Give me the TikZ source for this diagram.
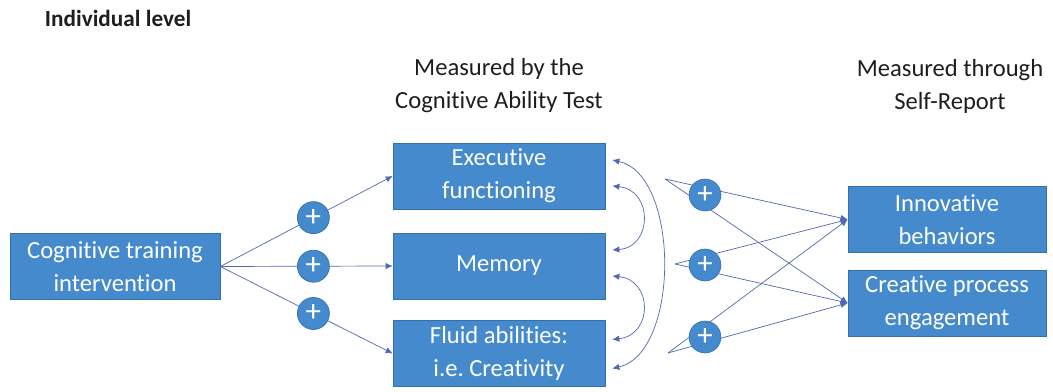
\documentclass[tikz,border=0pt]{standalone}
\usepackage{fontspec}
\setmainfont{Carlito}[Ligatures=NoCommon]
\usepackage{tikz}
\usetikzlibrary{arrows.meta}

\definecolor{boxblue}{RGB}{68,138,204}
\definecolor{boxline}{RGB}{52,112,172}
\definecolor{linkblue}{RGB}{78,104,178}
\definecolor{headtext}{RGB}{30,30,30}

\tikzset{
	box/.style={draw=boxline, fill=boxblue, text=white, align=center,
		minimum width=5.3cm, minimum height=1.65cm, inner sep=0pt,
		font=\fontsize{17.5}{23.5}\selectfont},
	plus/.style={circle, draw=boxline, fill=boxblue, text=white,
		minimum size=0.8cm, inner sep=0pt, font=\fontsize{22}{22}\selectfont},
	head/.style={align=center, text=headtext, font=\fontsize{17.5}{23.5}\selectfont},
	link/.style={draw=linkblue, line width=0.5pt, -{Latex[length=5pt,width=4.5pt]}},
	twoway/.style={draw=linkblue, line width=0.5pt, {Latex[length=5pt,width=4.5pt]}-{Latex[length=5pt,width=4.5pt]}}
}

\begin{document}
\begin{tikzpicture}[x=0.025cm, y=-0.025cm]
\useasboundingbox (0,0) rectangle (1053,392);

\node[anchor=west, text=headtext, font=\fontsize{16.5}{20}\selectfont\bfseries] (title) at (40,18) {Individual level};
\node[head] (hmid) at (499,86) {Measured by the\\Cognitive Ability Test};
\node[head] (hright) at (950,86) {Measured through\\Self-Report};

\node[box, minimum width=5.25cm] (train) at (115,266.5) {Cognitive training\\intervention};
\node[box] (exec) at (499,176) {Executive\\functioning};
\node[box] (mem) at (499,266) {Memory};
\node[box] (fluid) at (499,353.5) {Fluid abilities:\\i.e.\ Creativity};
\node[box, minimum width=4.95cm] (innov) at (947,219.5) {Innovative\\behaviors};
\node[box, minimum width=4.95cm] (creat) at (947,303) {Creative process\\engagement};

\foreach \b/\c in {exec/a1,mem/a2,fluid/a3}
	\draw[link] (train.east) -- node[plus, pos=0.54] (\c) {+} (\b.west);

\draw[twoway] ([shift={(7,-16)}]exec.east) .. controls (680,175) and (680,353) .. ([shift={(7,15)}]fluid.east);
\draw[twoway] ([shift={(7,10)}]exec.east) .. controls (653,190) and (653,247) .. ([shift={(7,-16)}]mem.east);
\draw[twoway] ([shift={(7,10)}]mem.east) .. controls (653,280) and (653,335) .. ([shift={(7,-14)}]fluid.east);

\coordinate (p1) at (665,179);
\coordinate (p2) at (675,264);
\coordinate (p3) at (668,353);
\foreach \p in {p1,p2,p3}
	{\draw[link] (\p) -- (innov.west);
	\draw[link] (\p) -- (creat.west);}

\node[plus] (b1) at (705,195) {+};
\node[plus] (b2) at (705,265) {+};
\node[plus] (b3) at (705,337) {+};

\end{tikzpicture}
\end{document}
